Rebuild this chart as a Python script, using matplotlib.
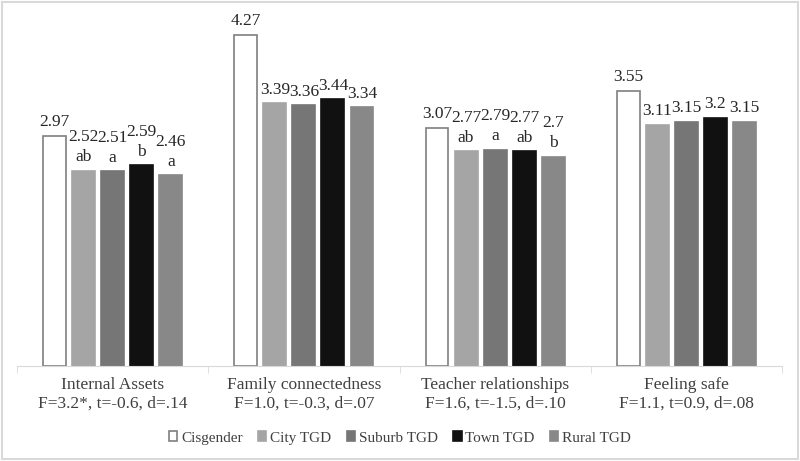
import matplotlib
matplotlib.use('Agg')
import matplotlib.pyplot as plt
from matplotlib.patches import Rectangle
import numpy as np

plt.rcParams['font.family'] = ['Liberation Serif', 'DejaVu Serif']

# data ------------------------------------------------
categories = ['Internal Assets\nF=3.2*, t=-0.6, d=.14',
              'Family connectedness\nF=1.0, t=-0.3, d=.07',
              'Teacher relationships\nF=1.6, t=-1.5, d=.10',
              'Feeling safe\nF=1.1, t=0.9, d=.08']
groups = ['Cisgender', 'City TGD', 'Suburb TGD', 'Town TGD', 'Rural TGD']
cisgender = [2.97, 4.27, 3.07, 3.55]
city = [2.52, 3.39, 2.77, 3.11]
suburb = [2.51, 3.36, 2.79, 3.15]
town = [2.59, 3.44, 2.77, 3.2]
rural = [2.46, 3.34, 2.7, 3.15]
letters = [['', 'ab', 'a', 'b', 'a'],
           ['', '', '', '', ''],
           ['', 'ab', 'a', 'ab', 'b'],
           ['', '', '', '', '']]

series = [cisgender, city, suburb, town, rural]
colors = ['white', '#a5a5a5', '#767676', '#111111', '#888888']
edges = ['#7f7f7f', '#a5a5a5', '#767676', '#111111', '#888888']

fig = plt.figure(figsize=(8, 4.61), dpi=100)
ax = fig.add_axes([17 / 800, 95 / 461, 765 / 800, 349 / 461])

x = np.arange(len(categories))
pitch = 0.152
width = 0.12

for k, vals in enumerate(series):
    pos = x + (k - 2) * pitch
    bars = ax.bar(pos, vals, width, color=colors[k], edgecolor=edges[k],
                  linewidth=1.2, label=groups[k])
    for i, b in enumerate(bars):
        txt = f'{vals[i]:g}'
        if letters[i][k]:
            txt = txt + '\n' + letters[i][k]
        ax.text(b.get_x() + b.get_width() / 2, vals[i] + 0.07, txt,
                ha='center', va='bottom', fontsize=12.5, color='#262626',
                linespacing=1.35)

ax.set_xlim(-0.5, 3.5)
ax.set_ylim(0, 4.5)
ax.set_yticks([])
for s in ['top', 'right', 'left']:
    ax.spines[s].set_visible(False)
ax.spines['bottom'].set_color('#d9d9d9')

ax.set_xticks(x)
ax.set_xticklabels(categories, fontsize=12.5, color='#404040', linespacing=1.2)
ax.tick_params(axis='x', which='major', length=0, pad=8)
ax.set_xticks(np.arange(-0.5, 4, 1), minor=True)
ax.tick_params(axis='x', which='minor', length=5, color='#d9d9d9')

fig.legend(loc='center', bbox_to_anchor=(0.5, 1 - 438 / 461), ncol=5,
           frameon=False, fontsize=11, handlelength=0.55, handleheight=0.55,
           handletextpad=0.25, columnspacing=1.0, labelcolor='#404040')

fig.patches.append(Rectangle((0.002, 0.004), 0.995, 0.991, transform=fig.transFigure,
                             fill=False, edgecolor='#d9d9d9', linewidth=1.5))

plt.savefig('out.png', dpi=100)
